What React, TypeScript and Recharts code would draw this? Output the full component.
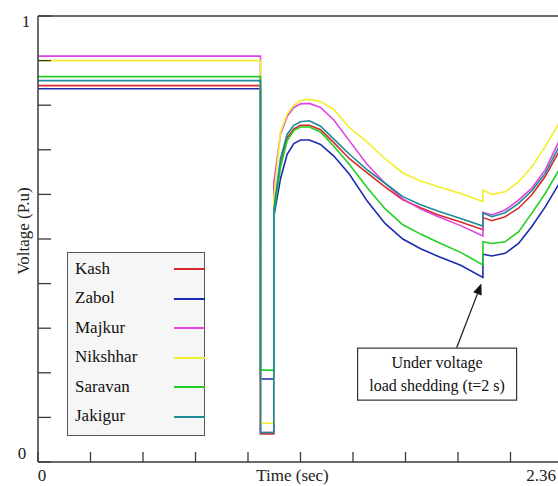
import {
  LineChart, Line, XAxis, YAxis,
  Legend, ReferenceLine, ReferenceDot,
} from "recharts";

// time axis (sec); repeated instants give the vertical steps at fault / shedding
const time = [
  0, 1.0, 1.0, 1.06, 1.06, 1.09, 1.12, 1.15, 1.18, 1.22, 1.27, 1.33, 1.4, 1.48,
  1.56, 1.64, 1.72, 1.8, 1.9, 2.0, 2.0, 2.04, 2.1, 2.16, 2.22, 2.28, 2.34, 2.36,
];

const kash = [
  0.844, 0.844, 0.063, 0.063, 0.56, 0.672, 0.727, 0.747, 0.755, 0.755, 0.745, 0.716, 0.68, 0.648,
  0.617, 0.588, 0.57, 0.554, 0.538, 0.521, 0.548, 0.541, 0.55, 0.569, 0.599, 0.64, 0.694, 0.715,
];
const zabol = [
  0.837, 0.837, 0.186, 0.186, 0.55, 0.635, 0.69, 0.714, 0.722, 0.722, 0.712, 0.686, 0.645, 0.585,
  0.535, 0.5, 0.478, 0.461, 0.441, 0.414, 0.466, 0.462, 0.468, 0.49, 0.528, 0.572, 0.622, 0.642,
];
const majkur = [
  0.91, 0.91, 0.066, 0.066, 0.625, 0.735, 0.775, 0.795, 0.803, 0.804, 0.795, 0.767, 0.72, 0.667,
  0.625, 0.59, 0.567, 0.55, 0.53, 0.507, 0.56, 0.554, 0.565, 0.587, 0.614, 0.655, 0.717, 0.74,
];
const nikshhar = [
  0.9, 0.9, 0.087, 0.087, 0.59, 0.74, 0.78, 0.8, 0.81, 0.813, 0.808, 0.79, 0.75, 0.717,
  0.68, 0.648, 0.63, 0.617, 0.602, 0.584, 0.61, 0.6, 0.606, 0.628, 0.662, 0.707, 0.758, 0.775,
];
const saravan = [
  0.864, 0.864, 0.206, 0.206, 0.555, 0.66, 0.72, 0.743, 0.751, 0.751, 0.74, 0.708, 0.667, 0.615,
  0.568, 0.532, 0.511, 0.492, 0.47, 0.442, 0.494, 0.49, 0.494, 0.516, 0.558, 0.602, 0.653, 0.673,
];
const jakigur = [
  0.855, 0.855, 0.066, 0.066, 0.565, 0.68, 0.735, 0.755, 0.763, 0.765, 0.753, 0.724, 0.69, 0.655,
  0.625, 0.595, 0.577, 0.562, 0.546, 0.529, 0.558, 0.55, 0.559, 0.58, 0.608, 0.647, 0.705, 0.728,
];

const seriesNames = ["Kash", "Zabol", "Majkur", "Nikshhar", "Saravan", "Jakigur"];
const seriesColors = ["#d82a2a", "#1c2bb0", "#e044e0", "#f0f02a", "#22d022", "#1d8c98"];
const seriesValues = [kash, zabol, majkur, nikshhar, saravan, jakigur];

const xTicks = [0, 0.236, 0.472, 0.708, 0.944, 1.18, 1.416, 1.652, 1.888, 2.124, 2.36];
const xTickLabels = ["0", "", "", "", "", "Time (sec)", "", "", "", "", "2.36"];
const yTicks = [0, 0.1, 0.2, 0.3, 0.4, 0.5, 0.6, 0.7, 0.8, 0.9, 1];
const yTickLabels = ["0", "", "", "", "", "", "", "", "", "", "1"];

const annotationLines = ["Under voltage", "load shedding (t=2 s)"];

const chartData = time.map((t, i) => {
  const row: Record<string, number> = { t };
  seriesNames.forEach((name, s) => {
    row[name] = seriesValues[s][i];
  });
  return row;
});

const axisColor = "#3a3a3a";

const XTick = (props: any) => {
  const { x, y, index } = props;
  const label = xTickLabels[index] ?? "";
  // labels sit a little left of their tick in the original
  const shift = index === 0 ? 4 : index === 5 ? -8 : -22;
  return (
    <g>
      <line x1={x} x2={x} y1={y} y2={y - 10} stroke={axisColor} strokeWidth={1.3} />
      {label && (
        <text x={x + shift} y={y + 19} textAnchor="middle" fontSize={17} fill="#222">
          {label}
        </text>
      )}
    </g>
  );
};

const YTick = (props: any) => {
  const { x, y, index } = props;
  const label = yTickLabels[index] ?? "";
  return (
    <g>
      <line x1={x} x2={x + 13} y1={y} y2={y} stroke={axisColor} strokeWidth={1.3} />
      {label && (
        <text x={index === 0 ? 22 : 26} y={index === 0 ? y - 3 : y + 11} textAnchor="middle" fontSize={17} fill="#222">
          {label}
        </text>
      )}
    </g>
  );
};

// legend keeps the series order of the original, not alphabetical
const LegendBox = () => (
  <div
    style={{
      width: 138,
      height: 184,
      boxSizing: "border-box",
      border: "1px solid #555",
      background: "#f6f6f6",
      paddingTop: 1,
    }}
  >
    {seriesNames.map((name, s) => (
      <div
        key={name}
        style={{ height: 29.5, display: "flex", alignItems: "center", position: "relative", fontSize: 17, color: "#111" }}
      >
        <span style={{ marginLeft: 7 }}>{name}</span>
        <span
          style={{ position: "absolute", left: 106, top: 14, width: 31, height: 2, background: seriesColors[s] }}
        />
      </div>
    ))}
  </div>
);

const AnnotationBox = (props: any) => {
  const { cx, cy } = props;
  return (
    <g>
      <rect x={cx - 79.5} y={cy - 26} width={159} height={52} fill="#fff" stroke="#333" strokeWidth={1.2} />
      <text x={cx} y={cy - 6} textAnchor="middle" fontSize={16} fill="#111">{annotationLines[0]}</text>
      <text x={cx} y={cy + 17} textAnchor="middle" fontSize={16} fill="#111">{annotationLines[1]}</text>
    </g>
  );
};

const Arrow = (props: any) => {
  const { x1, y1, x2, y2 } = props;
  const ang = Math.atan2(y2 - y1, x2 - x1);
  const len = 11;
  const w = 4.5;
  const bx = x2 - len * Math.cos(ang);
  const by = y2 - len * Math.sin(ang);
  const px = -Math.sin(ang) * w;
  const py = Math.cos(ang) * w;
  return (
    <g>
      <line x1={x1} y1={y1} x2={bx} y2={by} stroke="#222" strokeWidth={1.3} />
      <polygon points={`${x2},${y2} ${bx + px},${by + py} ${bx - px},${by - py}`} fill="#111" />
    </g>
  );
};

const App = () => {
  return (
    <div
      style={{
        position: "absolute",
        left: 0,
        top: 0,
        width: 558,
        height: 486,
        overflow: "hidden",
        background: "#fff",
        fontFamily: "'Liberation Serif', 'Times New Roman', serif",
      }}
    >
      <LineChart width={570} height={486} data={chartData} margin={{ top: 16, right: 7, bottom: 0, left: 0 }}>
        <XAxis
          dataKey="t"
          type="number"
          domain={[0, 2.36]}
          ticks={xTicks}
          interval={0}
          height={24}
          tickSize={0}
          tickMargin={0}
          tickLine={false}
          tick={<XTick />}
          axisLine={{ stroke: axisColor, strokeWidth: 1.5 }}
        />
        <YAxis
          type="number"
          domain={[0, 1]}
          ticks={yTicks}
          interval={0}
          width={38}
          tickSize={0}
          tickMargin={0}
          tickLine={false}
          tick={<YTick />}
          axisLine={{ stroke: axisColor, strokeWidth: 1.5 }}
          label={(p: any) => {
            const vb = p.viewBox ?? { x: 0, y: 16, height: 446 };
            const cy = vb.y + vb.height / 2 - 8;
            return (
              <text
                x={23}
                y={cy}
                transform={`rotate(-90, 23, ${cy})`}
                textAnchor="middle"
                dominantBaseline="central"
                fontSize={17}
                fill="#222"
              >
                Voltage (P.u)
              </text>
            );
          }}
        />
        <ReferenceLine y={1} stroke={axisColor} strokeWidth={1.5} />

        {seriesNames.map((name, s) => (
          <Line
            key={name}
            type="linear"
            dataKey={name}
            name={name}
            stroke={seriesColors[s]}
            strokeWidth={1.6}
            dot={false}
            isAnimationActive={false}
          />
        ))}

        <ReferenceLine
          segment={[{ x: 1.882, y: 0.256 }, { x: 1.993, y: 0.4 }]}
          shape={<Arrow />}
        />
        <ReferenceDot x={1.794} y={0.197} r={0} shape={<AnnotationBox />} />

        <Legend
          layout="vertical"
          align="center"
          verticalAlign="middle"
          content={<LegendBox />}
          wrapperStyle={{ left: 67, top: 252, width: 140, height: 186 }}
        />
      </LineChart>
    </div>
  );
};

export default App;
